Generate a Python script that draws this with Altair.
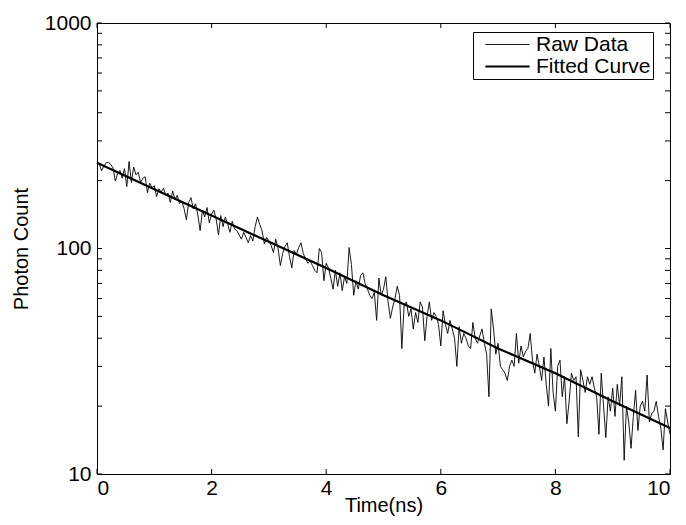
import altair as alt
import pandas as pd
import numpy as np

# Raw data: 250 time bins (ns) and photon counts
raw_time = np.round(np.linspace(0.04, 10.0, 250), 2).tolist()
raw_counts = [
    238, 221, 232, 240, 241, 236, 228, 199, 215, 222,
    205, 226, 188, 243, 196, 230, 212, 218, 196, 205,
    208, 177, 195, 186, 190, 170, 184, 178, 185, 172,
    176, 160, 180, 165, 172, 158, 162, 150, 134, 160,
    168, 150, 158, 141, 120, 148, 138, 152, 130, 142,
    148, 135, 115, 140, 125, 138, 128, 118, 132, 122,
    120, 115, 110, 118, 112, 106, 114, 108, 125, 138,
    128, 120, 105, 112, 108, 103, 96, 110, 100, 84,
    95, 102, 106, 92, 82, 98, 94, 101, 106, 95,
    90, 86, 88, 84, 80, 78, 100, 96, 72, 86,
    82, 74, 66, 80, 68, 78, 65, 75, 70, 101,
    85, 62, 72, 66, 76, 78, 70, 66, 62, 60,
    64, 48, 74, 62, 66, 75, 58, 49, 55, 60,
    68, 62, 36, 56, 58, 50, 54, 44, 52, 47,
    58, 55, 39, 50, 58, 48, 52, 50, 46, 37,
    53, 46, 42, 48, 44, 40, 30, 45, 38, 42,
    40, 37, 36, 47, 40, 38, 41, 44, 38, 34,
    22, 54, 44, 34, 38, 30, 29, 28, 26, 30,
    32, 30, 42, 31, 37, 33, 35, 36, 42, 32,
    28, 34, 30, 26, 33, 25, 20, 36, 23, 19,
    30, 32, 22, 27, 16.7, 21, 28, 26, 27, 14.6,
    29, 26, 23, 27, 25, 27, 24, 22, 15, 28,
    20, 14.5, 22, 19, 24, 18, 25, 20, 27, 11.5,
    20, 17, 13, 18, 23.5, 15.6, 20, 21, 19, 27.5,
    17, 18.5, 19, 21, 18, 16, 12.8, 19.5, 17, 15,
]

# Fitted curve read at whole nanoseconds
fit_time = [0, 1, 2, 3, 4, 5, 6, 7, 8, 9, 10]
fit_counts = [240, 183, 140, 107, 82, 62, 48, 36, 28, 21, 16]

series_names = ["Raw Data", "Fitted Curve"]

x_ticks = [0, 2, 4, 6, 8, 10]
y_major = [10, 100, 1000]
y_minor = [20, 30, 40, 50, 60, 70, 80, 90, 200, 300, 400, 500, 600, 700, 800, 900]

W, H = 573, 451
TL = 5
FONT = "Liberation Sans"
FS = 21

df = pd.concat([
    pd.DataFrame({"t": raw_time, "c": raw_counts, "series": "Raw Data"}),
    pd.DataFrame({"t": fit_time, "c": fit_counts, "series": "Fitted Curve"}),
])

xs = alt.Scale(domain=[0, 10], nice=False, zero=False)
ys = alt.Scale(type="log", domain=[10, 1000], nice=False)

lines = alt.Chart(df).mark_line(color="black").encode(
    x=alt.X("t:Q", scale=xs,
            axis=alt.Axis(values=x_ticks, title="Time(ns)", ticks=False, domain=False,
                          grid=False, labelPadding=3, titlePadding=-3, format="d",
                          titleFontSize=20)),
    y=alt.Y("c:Q", scale=ys,
            axis=alt.Axis(values=y_major, title="Photon Count", ticks=False, domain=False,
                          grid=False, labelPadding=6, titlePadding=13, format="d",
                          titleFontSize=20)),
    strokeWidth=alt.StrokeWidth(
        "series:N",
        scale=alt.Scale(domain=series_names, range=[0.9, 2.2]),
        legend=alt.Legend(title=None, orient="none", legendX=376, legendY=9,
                          symbolType="M-2.6,0H2.6", symbolSize=289,
                          symbolStrokeColor="black", symbolFillColor="transparent",
                          labelFontSize=21, labelFont=FONT,
                          labelColor="black", labelOffset=18, symbolOffset=22,
                          padding=2, rowPadding=0, clipHeight=21,
                          strokeColor="black", fillColor="white", labelLimit=300),
    ),
    detail="series:N",
    order="t:Q",
)

xt = pd.DataFrame({"v": x_ticks})
yt = pd.DataFrame({"v": y_major + y_minor})

bx = alt.Chart(xt).mark_rule(color="black", strokeWidth=1).encode(
    x=alt.X("v:Q", scale=xs), y=alt.value(H), y2=alt.value(H - TL))
tx = alt.Chart(xt).mark_rule(color="black", strokeWidth=1).encode(
    x=alt.X("v:Q", scale=xs), y=alt.value(0), y2=alt.value(TL))
ly = alt.Chart(yt).mark_rule(color="black", strokeWidth=1).encode(
    y=alt.Y("v:Q", scale=ys), x=alt.value(0), x2=alt.value(TL))
ry = alt.Chart(yt).mark_rule(color="black", strokeWidth=1).encode(
    y=alt.Y("v:Q", scale=ys), x=alt.value(W - TL), x2=alt.value(W))

chart = alt.layer(lines, bx, tx, ly, ry).properties(
    width=W, height=H,
    background="white",
    autosize=alt.AutoSizeParams(type="none"),
    padding={"left": 89, "top": 15, "right": 4, "bottom": 42},
).configure_view(stroke="black", strokeWidth=1).configure_axis(
    labelFont=FONT, labelFontSize=FS, labelColor="black",
    titleFont=FONT, titleFontSize=FS, titleColor="black", titleFontWeight="normal",
)

chart.save("out.html", embed_options={"renderer": "svg", "actions": False})
